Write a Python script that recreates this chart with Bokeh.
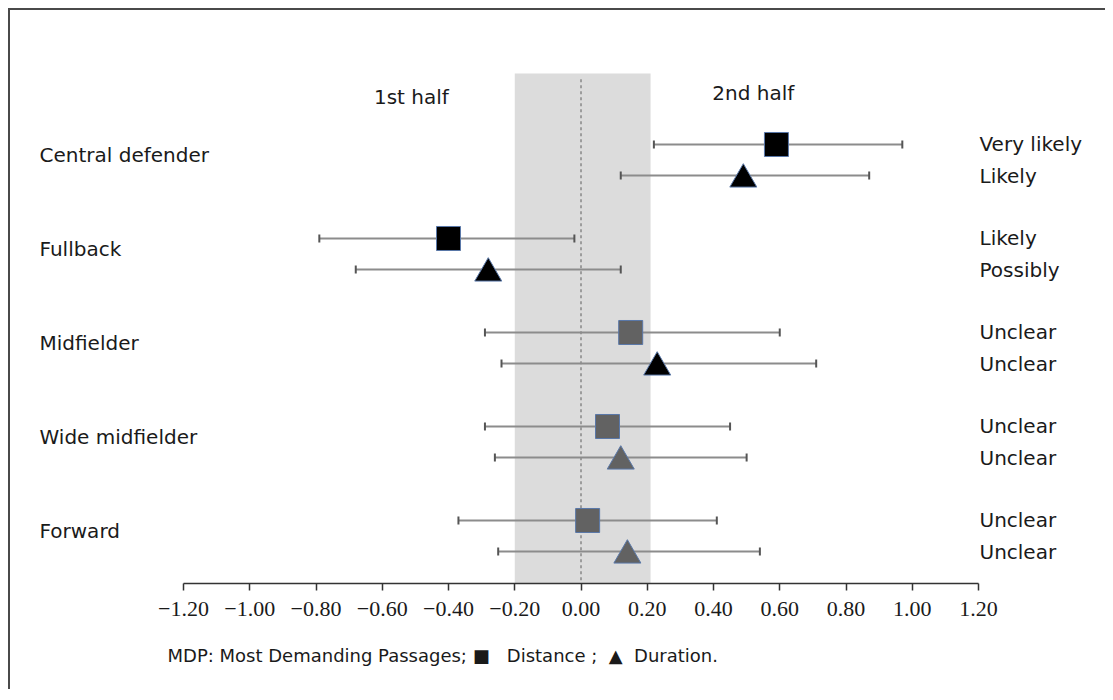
import math
from bokeh.plotting import figure
from bokeh.models import Range1d, FixedTicker, Title
from bokeh.embed import file_html
from bokeh.resources import INLINE
from bokeh.core.properties import value

# ---------------- data ----------------
positions = ["Central defender", "Fullback", "Midfielder", "Wide midfielder", "Forward"]

dist_mean = [0.59, -0.40, 0.15, 0.08, 0.02]
dist_lower = [0.22, -0.79, -0.29, -0.29, -0.37]
dist_upper = [0.97, -0.02, 0.60, 0.45, 0.41]

dur_mean = [0.49, -0.28, 0.23, 0.12, 0.14]
dur_lower = [0.12, -0.68, -0.24, -0.26, -0.25]
dur_upper = [0.87, 0.12, 0.71, 0.50, 0.54]

dist_inference = ["Very likely", "Likely", "Unclear", "Unclear", "Unclear"]
dur_inference = ["Likely", "Possibly", "Unclear", "Unclear", "Unclear"]

# which markers are drawn in black (others grey)
dist_dark = [True, True, False, False, False]
dur_dark = [True, True, True, False, False]

shade_lo, shade_hi = -0.20, 0.21  # trivial-change zone

tick_values = [-1.2, -1.0, -0.8, -0.6, -0.4, -0.2, 0.0, 0.2, 0.4, 0.6, 0.8, 1.0, 1.2]
tick_labels = ["\u22121.20", "\u22121.00", "\u22120.80", "\u22120.60", "\u22120.40", "\u22120.20",
               "0.00", "0.20", "0.40", "0.60", "0.80", "1.00", "1.20"]

half_labels = ["1st half", "2nd half"]
NB = "\u00A0"
legend_note = ("MDP: Most Demanding Passages;" + NB + "\u25A0" + NB * 3 + "Distance" + NB + ";"
               + NB * 2 + "\u25B2" + NB * 2 + "Duration.")

# ---------------- styles ----------------
DARK = "#000000"
GREY = "#626262"
EDGE = "#5a78a8"
BAR = "#8c8c8c"
CAP = "#555555"
TXT = "#1a1a1a"
SANS = "DejaVu Sans"
SERIF = "Liberation Serif"
off = 0.165
tri_shift = 0.04  # centre the triangle's box on its bar

rows = list(range(len(positions)))
y_dist = [r - off for r in rows]
y_dur = [r + off for r in rows]

p = figure(frame_width=1095, frame_height=573,
           x_range=Range1d(-1.7223, 1.5834), y_range=Range1d(4.5053, -1.5904),
           output_backend="svg", toolbar_location=None, y_axis_location=None,
           min_border_left=0, min_border_right=0, min_border_top=0, min_border_bottom=45)
p.styles = {"margin-left": "8px", "margin-top": "8px",
            "border-left": "2px solid #4a4a4a", "border-top": "2px solid #4a4a4a"}
p.outline_line_color = None
p.xgrid.visible = False
p.ygrid.visible = False
p.background_fill_color = "white"
p.border_fill_color = "white"

# shaded zone and zero line
p.quad(left=[shade_lo], right=[shade_hi], top=[-0.92], bottom=[4.6],
       fill_color="#dcdcdc", line_color=None, level="underlay")
p.segment(x0=[0], x1=[0], y0=[-0.86], y1=[4.6], line_color="#7a7a7a",
          line_width=1.3, line_dash="3 3", level="underlay")

# error bars
for lo, hi, ys in ((dist_lower, dist_upper, y_dist), (dur_lower, dur_upper, y_dur)):
    p.segment(x0=lo, x1=hi, y0=ys, y1=ys, line_color=BAR, line_width=2.2)
    p.scatter(x=lo + hi, y=ys + ys, marker="dash", angle=math.pi / 2, size=8,
              line_color=CAP, line_width=2)

# markers
p.scatter(x=dist_mean, y=y_dist, marker="square", size=24,
          fill_color=[DARK if d else GREY for d in dist_dark], line_color=EDGE, line_width=1)
p.scatter(x=dur_mean, y=[y + tri_shift for y in y_dur], marker="triangle", size=27,
          fill_color=[DARK if d else GREY for d in dur_dark], line_color=EDGE, line_width=1)

# category labels
p.text(x=[-1.6347] * len(rows), y=rows, text=positions, text_font=value(SANS),
       text_font_size="20px", text_color=TXT, text_baseline="middle", text_align="left",
       y_offset=-5)

# inference labels
p.text(x=[1.203] * len(rows), y=y_dist, text=dist_inference, text_font=value(SANS),
       text_font_size="20px", text_color=TXT, text_baseline="middle", text_align="left")
p.text(x=[1.203] * len(rows), y=y_dur, text=dur_inference, text_font=value(SANS),
       text_font_size="20px", text_color=TXT, text_baseline="middle", text_align="left")

# half labels
p.text(x=[-0.512, 0.52], y=[-0.67, -0.71], text=half_labels, text_font=value(SANS),
       text_font_size="20px", text_color=TXT, text_baseline="middle", text_align="center")

# x axis
ax = p.xaxis[0]
ax.ticker = FixedTicker(ticks=tick_values)
ax.major_label_overrides = dict(zip(tick_values, tick_labels))
ax.bounds = (-1.2, 1.2)
ax.axis_line_color = "#333333"
ax.axis_line_width = 1.5
ax.major_tick_line_color = "#333333"
ax.major_tick_line_width = 1.5
ax.major_tick_in = 0
ax.major_tick_out = 7
ax.minor_tick_line_color = None
ax.major_label_standoff = 11
ax.major_label_text_font = SERIF
ax.major_label_text_font_size = "22px"
ax.major_label_text_color = TXT

note = Title(text=legend_note, align="left", offset=157, text_font=SANS,
             text_font_size="18px", text_font_style="normal", text_color=TXT, standoff=48)
p.add_layout(note, "below")

open("out.html", "w").write(file_html(p, INLINE))
